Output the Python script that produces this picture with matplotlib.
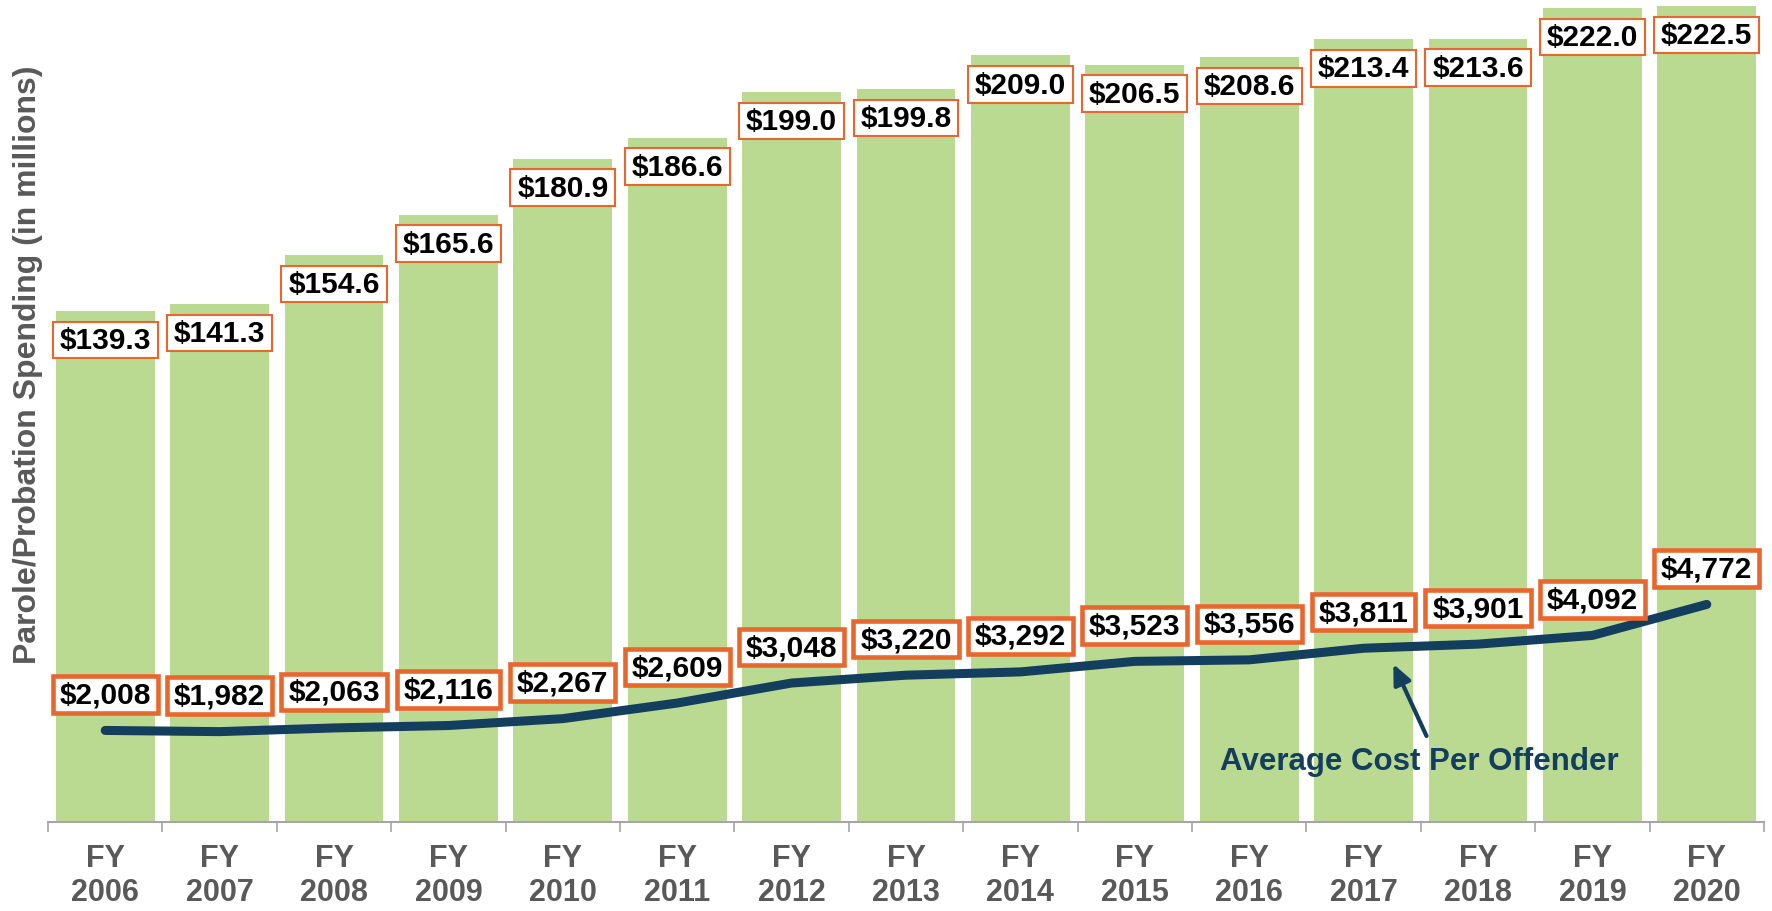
import matplotlib
matplotlib.use("Agg")
import matplotlib.pyplot as plt
from matplotlib.path import Path
import numpy as np

# ---- data ----
years = ["2006", "2007", "2008", "2009", "2010", "2011", "2012", "2013",
         "2014", "2015", "2016", "2017", "2018", "2019", "2020"]
spending = [139.3, 141.3, 154.6, 165.6, 180.9, 186.6, 199.0, 199.8,
            209.0, 206.5, 208.6, 213.4, 213.6, 222.0, 222.5]
cost_per_offender = [2008, 1982, 2063, 2116, 2267, 2609, 3048, 3220,
                     3292, 3523, 3556, 3811, 3901, 4092, 4772]
tick_labels = ["FY\n" + y for y in years]

# ---- styles ----
plt.rcParams['font.family'] = ['Liberation Sans', 'DejaVu Sans']
BAR = "#BBDA91"
NAVY = "#143E5E"
ORANGE = "#E8672E"
GRAY = "#595959"
AXGRAY = "#A6A6A6"

W, H, DPI = 1772, 912, 100
fig = plt.figure(figsize=(W / DPI, H / DPI), dpi=DPI)

left_px, right_px, base_px = 48, 1764, 823
ax = fig.add_axes([left_px / W, 1 - base_px / H, (right_px - left_px) / W, base_px / H])
ax2 = ax.twinx()

x = np.arange(len(years))
ax.bar(x, spending, width=0.865, color=BAR, zorder=1)
ax.set_xlim(-0.5, len(years) - 0.5)
ax.set_ylim(0, 224.4)
ax2.set_ylim(0, 18050)


def padded_box(padx, pady):
    def style(x0, y0, width, height, mutation_size):
        px = padx * mutation_size
        py = pady * mutation_size
        verts = [(x0 - px, y0 - py), (x0 + width + px, y0 - py),
                 (x0 + width + px, y0 + height + py), (x0 - px, y0 + height + py),
                 (x0 - px, y0 - py)]
        return Path(verts, closed=True)
    return style


FS_LABEL = 21.5
for xi, v in zip(x, spending):
    ax.annotate(f"${v:.1f}", xy=(xi, v), xytext=(0, -20.9), textcoords="offset points",
                ha="center", va="center", fontsize=FS_LABEL, fontweight="bold", color="black",
                bbox=dict(boxstyle=padded_box(0.23, 0.14), fc="white", ec=ORANGE, lw=1.5),
                zorder=3)

ax2.plot(x, cost_per_offender, color=NAVY, lw=6.5, solid_capstyle="round",
         solid_joinstyle="round", zorder=2)
for xi, v in zip(x, cost_per_offender):
    ax2.annotate(f"${v:,}", xy=(xi, v), xytext=(0, 25.9), textcoords="offset points",
                 ha="center", va="center", fontsize=FS_LABEL, fontweight="bold", color="black",
                 bbox=dict(boxstyle=padded_box(0.23, 0.14), fc="white", ec=ORANGE, lw=3.3),
                 zorder=4)

# annotation
ax2.text(11.49, 1162, "Average Cost Per Offender", ha="center", va="baseline",
         fontsize=22.5, fontweight="bold", color=NAVY)
ax2.annotate("", xy=(11.26, 3465), xytext=(11.55, 1886),
             arrowprops=dict(arrowstyle="-|>,head_length=0.6,head_width=0.27",
                             lw=3, color=NAVY, mutation_scale=20,
                             shrinkA=0, shrinkB=0))

# axes styling
for a in (ax, ax2):
    for s in ("top", "right", "left"):
        a.spines[s].set_visible(False)
    a.set_yticks([])
ax2.spines["bottom"].set_visible(False)
ax.spines["bottom"].set_color(AXGRAY)
ax.spines["bottom"].set_linewidth(1.5)

ax.set_xticks(x)
ax.set_xticklabels(tick_labels, fontsize=22, fontweight="bold", color=GRAY, linespacing=1.18)
ax.tick_params(axis="x", which="major", length=0, pad=15)
ax.set_xticks(np.arange(-0.5, len(years), 1.0), minor=True)
ax.tick_params(axis="x", which="minor", length=7.2, width=1.2, color=AXGRAY, direction="out")

fig.text(28 / W, 1 - 365 / H, "Parole/Probation Spending (in millions)", rotation=90,
         ha="center", va="center", fontsize=23, fontweight="bold", color=GRAY)

fig.savefig("out.png", dpi=DPI)
